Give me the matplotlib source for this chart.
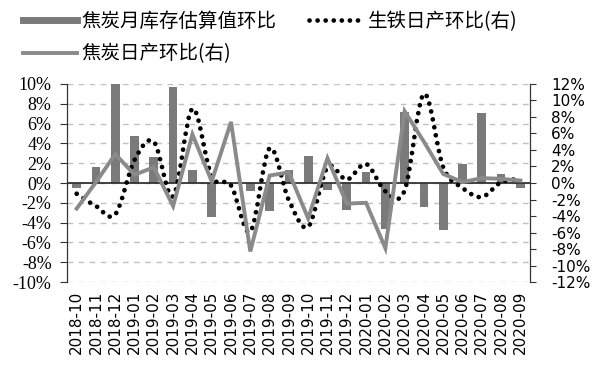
import numpy as np
import matplotlib.pyplot as plt
from matplotlib.path import Path
from matplotlib.patches import PathPatch
from matplotlib.lines import Line2D

months = ['2018-10', '2018-11', '2018-12', '2019-01', '2019-02', '2019-03',
          '2019-04', '2019-05', '2019-06', '2019-07', '2019-08', '2019-09',
          '2019-10', '2019-11', '2019-12', '2020-01', '2020-02', '2020-03',
          '2020-04', '2020-05', '2020-06', '2020-07', '2020-08', '2020-09']
# 焦炭月库存估算值环比 (left axis, %)
stock = [-0.5, 1.6, 10.5, 4.7, 2.6, 9.7, 1.3, -3.4, 0.0, -0.8, -2.8, 1.35,
         2.7, -0.7, -2.7, 1.1, -4.6, 7.2, -2.4, -4.7, 1.9, 7.1, 0.9, -0.5]
# 生铁日产环比 (right axis, %)
iron = [-1.3, -2.8, -3.8, 2.8, 5.0, -1.6, 9.0, 0.8, -0.3, -5.9, 4.2, -2.1,
        -5.3, 1.9, 0.4, 2.3, -1.0, -0.9, 10.8, 1.9, -0.6, -1.7, 0.1, 0.5]
# 焦炭日产环比 (right axis, %)
coke = [-3.1, 0.1, 3.5, 1.0, 1.9, -2.8, 5.9, 0.2, 7.4, -8.3, 0.9, 1.3,
        -4.3, 3.0, -2.5, -2.4, -7.9, 8.7, 5.0, 1.1, 0.1, 0.6, 0.5, 0.3]
left_ticks = np.arange(-10, 11, 2)
right_ticks = np.arange(-12, 13, 2)

plt.rcParams['font.family'] = ['DejaVu Sans']
cjk = ['Noto Sans CJK SC', 'DejaVu Sans']
bar_c = '#7a7a7a'
line_c = '#8a8a8a'
dots = (0, (0.01, 1.7))


def smooth_path(xs, ys):
    # excel-like smoothed line: cubic bezier through the points
    pts = list(zip(xs, ys))
    n = len(pts)
    verts = [pts[0]]
    codes = [Path.MOVETO]
    for i in range(n - 1):
        p0 = pts[max(i - 1, 0)]
        p1 = pts[i]
        p2 = pts[i + 1]
        p3 = pts[min(i + 2, n - 1)]
        c1 = (p1[0] + (p2[0] - p0[0]) / 6, p1[1] + (p2[1] - p0[1]) / 6)
        c2 = (p2[0] - (p3[0] - p1[0]) / 6, p2[1] - (p3[1] - p1[1]) / 6)
        verts += [c1, c2, p2]
        codes += [Path.CURVE4] * 3
    return Path(verts, codes)


fig = plt.figure(figsize=(6, 3.66), dpi=100)
ax = fig.add_axes([0.1117, 0.2295, 0.7717, 0.541])
ax2 = ax.twinx()

x = np.arange(len(months))
ax.bar(x, stock, width=0.45, color=bar_c, zorder=2)
ax.set_xlim(-0.5, len(months) - 0.5)
ax.set_ylim(-10, 10)
ax.set_yticks(left_ticks)
ax.set_yticklabels([f'{v}%' for v in left_ticks],
                   fontfamily='Liberation Serif', fontsize=13)
ax.grid(axis='y', linestyle=(0, (4, 4)), color='#c0c0c0', lw=1, zorder=0)
ax.axhline(0, color='#333333', lw=1.3, zorder=3)
ax.set_xticks(x)
ax.set_xticklabels(months, rotation=90)
ax.tick_params(axis='x', length=0, pad=6, labelsize=11)
ax.tick_params(axis='y', length=5, color='#333333', pad=6)

ax2.set_ylim(-12, 12)
ax2.set_yticks(right_ticks)
ax2.set_yticklabels([f'{v}%' for v in right_ticks], fontsize=11)
ax2.tick_params(axis='y', length=4, color='#333333', pad=11)
ax2.plot(x, coke, color=line_c, lw=2.8, solid_joinstyle='miter')
ax2.add_patch(PathPatch(smooth_path(x, iron), fill=False, edgecolor='black',
                        lw=3.4, linestyle=dots, capstyle='round'))

for a in (ax, ax2):
    for s in ('top', 'bottom'):
        a.spines[s].set_visible(False)
    for s in ('left', 'right'):
        a.spines[s].set_color('#333333')

handles = [Line2D([], [], color=bar_c, lw=5),
           Line2D([], [], color=line_c, lw=2.8),
           Line2D([], [], color='black', lw=3.4, linestyle=dots,
                  dash_capstyle='round')]
labels = ['焦炭月库存估算值环比', '焦炭日产环比(右)', '生铁日产环比(右)']
fig.legend(handles, labels, ncol=2, loc='upper left',
           bbox_to_anchor=(0.02, 1.0), frameon=False,
           prop={'family': cjk, 'size': 14}, handlelength=2.8,
           handletextpad=0.2, columnspacing=1.7, labelspacing=0.6,
           borderaxespad=0.15)

fig.savefig('out.png', dpi=100)
